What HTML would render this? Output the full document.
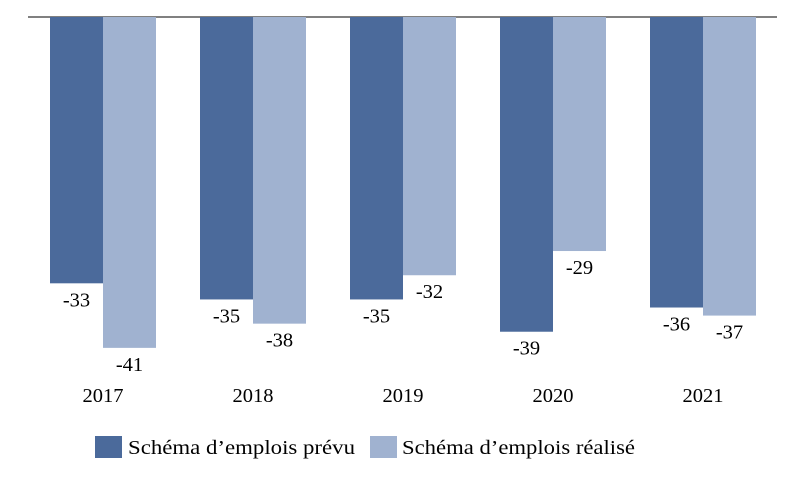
<!DOCTYPE html>
<html><head><meta charset="utf-8"><style>
body{margin:0;background:#fff;}
svg text{font-family:"Liberation Serif",serif;font-size:20.5px;fill:#000;}
</style></head><body>
<svg width="789" height="477" id="chart">
<line x1="28" y1="17" x2="777" y2="17" stroke="#000" stroke-width="1"/>
<g id="bars"></g>
<g>
<rect x="95" y="436" width="27" height="22" fill="#4B6A9B"/>
<text x="128" y="454" textLength="227" lengthAdjust="spacingAndGlyphs">Schéma d’emplois prévu</text>
<rect x="370" y="436" width="27" height="22" fill="#A0B2D0"/>
<text x="402" y="454" textLength="233" lengthAdjust="spacingAndGlyphs">Schéma d’emplois réalisé</text>
</g>
</svg>
<script>
const categories = ["2017","2018","2019","2020","2021"];
const prevu = [-33,-35,-35,-39,-36];
const realise = [-41,-38,-32,-29,-37];
const g = document.getElementById('bars');
const NS = 'http://www.w3.org/2000/svg';
const y0 = 17, scale = 8.07, left = 28, band = 150, bw = 53;
function yPos(v){ return y0 - v*scale; }
function xCenter(i){ return left + band/2 + band*i; }
function mk(tag, attrs){ const e=document.createElementNS(NS,tag); for(const k in attrs) e.setAttribute(k,attrs[k]); g.appendChild(e); return e; }
const series = [{vals:prevu,color:'#4B6A9B',name:'prevu',off:-bw},{vals:realise,color:'#A0B2D0',name:'realise',off:0}];
categories.forEach((c,i)=>{
  series.forEach(s=>{
    const v = s.vals[i];
    const x = xCenter(i)+s.off;
    const r = mk('rect',{x:x,y:y0,width:bw,height:yPos(v)-y0,fill:s.color});
    
    
    const t = mk('text',{x:x+bw/2,y:yPos(v)+23,'text-anchor':'middle'});
    t.textContent = String(v);
    
    
  });
  const t = mk('text',{x:xCenter(i),y:402,'text-anchor':'middle'});
  t.textContent = c;
  
  
});
</script>
</body></html>
